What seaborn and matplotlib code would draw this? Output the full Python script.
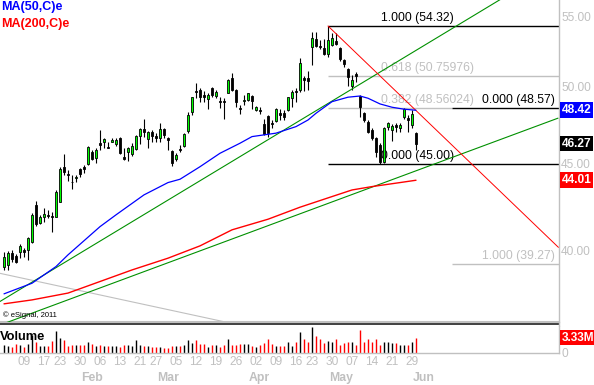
import matplotlib
matplotlib.use('Agg')
import matplotlib.pyplot as plt
import matplotlib.transforms as mtrans
from matplotlib.lines import Line2D
from matplotlib.ticker import NullLocator, FixedLocator
import numpy as np
import pandas as pd
import seaborn as sns

sns.set_theme(style='white')
plt.rcParams['font.family'] = ['Liberation Sans', 'DejaVu Sans']

# ---------------- data (daily bars, Jan 3 - Jun 1 2011) ----------------
opens = [39.09, 39.21, 39.84, 39.70, 39.90, 40.00, 40.00, 40.47, 42.55, 41.54,
         41.88, 41.98, 41.92, 41.85, 42.71, 44.84, 44.37, 43.93, 44.13, 44.69,
         44.82, 44.98, 45.76, 45.36, 46.29, 46.39, 46.08, 46.35, 46.22, 46.65,
         45.42, 45.76, 45.60, 45.91, 46.78, 47.21, 46.56, 47.03, 46.76, 46.61,
         47.21, 46.61, 45.81, 45.31, 45.93, 46.14, 47.08, 48.32, 49.71, 49.78,
         49.44, 49.17, 49.94, 49.38, 49.06, 49.04, 49.59, 50.62, 49.78, 48.60,
         49.06, 49.11, 49.38, 48.44, 48.44, 47.52, 48.04, 47.61, 47.72, 48.22,
         48.26, 48.44, 49.22, 49.74, 49.78, 50.58, 50.58, 52.81, 53.34, 52.86,
         52.69, 52.28, 52.93, 53.24, 52.72, 51.86, 51.21, 50.05, 50.88, 49.38,
         48.22, 47.67, 47.14, 46.61, 46.18, 45.14, 47.31, 47.14, 47.46, 47.25,
         48.00, 47.89, 47.46, 46.97]
highs = [39.93, 39.97, 40.02, 39.79, 40.33, 40.11, 40.75, 42.08, 42.78, 41.98,
         42.36, 42.26, 42.16, 43.43, 44.84, 45.60, 44.63, 44.33, 44.33, 44.73,
         44.94, 46.14, 45.87, 45.98, 47.14, 46.65, 46.35, 46.61, 46.61, 46.71,
         45.98, 46.08, 46.29, 46.82, 47.29, 47.84, 47.08, 47.12, 46.93, 47.57,
         47.29, 46.71, 45.87, 45.66, 46.18, 46.93, 48.32, 49.33, 50.24, 49.89,
         49.71, 49.55, 50.01, 49.78, 49.33, 49.22, 50.51, 50.97, 49.83, 48.77,
         49.44, 49.59, 49.44, 48.70, 48.66, 47.82, 48.11, 47.78, 48.55, 48.48,
         48.44, 49.33, 49.78, 49.89, 51.98, 50.74, 51.11, 53.91, 53.91, 53.29,
         53.34, 54.32, 53.78, 53.78, 52.79, 51.91, 51.28, 50.81, 51.04, 49.44,
         48.32, 47.78, 47.25, 46.71, 46.29, 47.35, 47.67, 47.52, 47.57, 47.57,
         48.57, 48.11, 48.44, 47.03]
lows = [38.94, 38.94, 39.39, 39.30, 39.60, 39.63, 39.48, 40.38, 41.37, 41.45,
        41.59, 41.79, 41.03, 41.85, 42.71, 44.33, 43.97, 43.47, 43.89, 44.23,
        44.43, 44.94, 45.25, 45.04, 45.87, 45.98, 45.98, 46.35, 46.14, 45.60,
        45.25, 45.19, 45.52, 45.87, 46.22, 46.71, 45.98, 46.39, 46.39, 46.39,
        46.61, 45.87, 44.90, 45.19, 45.76, 46.08, 46.93, 48.11, 49.22, 48.99,
        48.99, 48.50, 49.33, 49.26, 48.55, 47.82, 49.55, 49.74, 48.62, 48.18,
        48.77, 49.04, 48.48, 48.39, 48.18, 46.82, 46.71, 47.25, 47.67, 47.78,
        47.78, 48.39, 48.62, 48.99, 49.67, 49.74, 49.78, 51.51, 52.77, 52.62,
        52.21, 52.09, 52.88, 52.93, 51.81, 51.39, 50.05, 49.78, 50.34, 48.00,
        47.67, 46.93, 46.50, 45.45, 45.00, 45.04, 47.14, 46.40, 47.03, 47.03,
        47.82, 47.03, 47.25, 45.87]
closes = [39.63, 39.84, 39.53, 39.36, 40.25, 39.90, 40.70, 41.98, 41.45, 41.87,
          42.04, 41.94, 41.85, 43.33, 44.69, 44.53, 44.33, 43.89, 44.19, 44.39,
          44.68, 46.08, 45.31, 45.87, 46.18, 46.56, 46.02, 46.50, 46.50, 45.67,
          45.31, 45.98, 46.14, 46.76, 47.21, 47.03, 46.99, 46.78, 46.65, 47.21,
          46.82, 46.50, 45.04, 45.56, 45.87, 46.89, 48.11, 49.29, 49.63, 49.33,
          49.33, 49.44, 49.44, 49.67, 48.99, 48.97, 50.46, 49.78, 48.99, 48.48,
          49.11, 49.55, 49.04, 48.66, 48.37, 46.89, 46.93, 47.52, 48.48, 48.13,
          47.95, 49.29, 49.67, 49.61, 51.63, 50.46, 50.41, 53.42, 52.89, 52.81,
          52.28, 53.29, 53.42, 53.00, 51.91, 51.58, 50.65, 50.46, 50.74, 48.66,
          47.78, 47.03, 46.61, 45.76, 45.14, 47.25, 47.57, 47.40, 47.35, 47.46,
          48.48, 47.78, 48.16, 46.27]
volumes_m = [1.70, 1.48, 1.33, 1.92, 1.70, 1.33, 1.92, 3.92, 2.44, 1.48,
             1.48, 1.48, 2.66, 4.81, 3.18, 2.81, 1.48, 1.70, 1.70, 1.70,
             1.70, 2.37, 1.92, 1.48, 1.70, 1.48, 1.48, 1.48, 1.48, 1.33,
             1.70, 1.70, 1.48, 2.81, 1.70, 1.48, 1.48, 1.18, 1.18, 1.18,
             0.96, 0.96, 1.48, 1.48, 1.48, 1.70, 2.81, 2.22, 2.81, 1.92,
             1.92, 1.18, 1.70, 1.70, 1.18, 1.70, 3.03, 1.70, 1.70, 1.92,
             1.92, 1.92, 1.48, 1.33, 1.70, 2.22, 2.96, 1.92, 1.48, 1.48,
             1.48, 2.44, 1.48, 2.44, 4.66, 2.96, 2.44, 5.62, 3.70, 2.96,
             2.22, 2.66, 2.44, 3.03, 1.70, 2.07, 2.29, 2.44, 1.70, 5.03,
             2.44, 3.03, 2.44, 3.03, 1.70, 2.29, 2.29, 2.07, 2.07, 1.70,
             1.70, 1.70, 2.44, 3.33]

ma50_idx = [0, 7, 13, 16, 24, 28, 35, 41, 44, 49, 54, 59, 62, 65, 68, 73, 76,
            78, 82, 86, 89, 91, 94, 97, 100, 103]
ma50_val = [37.69, 38.24, 39.12, 39.75, 41.31, 41.98, 43.14, 43.87, 44.07, 44.83,
            45.66, 46.29, 46.71, 46.82, 46.93, 47.35, 47.78, 48.22, 48.99, 49.29,
            49.37, 49.22, 48.84, 48.62, 48.49, 48.42]
ma200_idx = [0, 7, 16, 24, 32, 41, 49, 57, 66, 74, 82, 87, 92, 99, 103]
ma200_val = [37.18, 37.38, 37.73, 38.33, 38.94, 39.57, 40.24, 41.13, 41.73, 42.42,
             43.04, 43.43, 43.63, 43.87, 44.01]

# trend lines (bar index, price)
green_up_idx, green_up_px = [-1, 138.5], [37.30, 59.06]
green_lo_idx, green_lo_px = [-1, 138.5], [36.12, 47.90]
red_dn_idx, red_dn_px = [81, 138.6], [54.32, 40.16]
gray_dn_idx, gray_dn_px = [-1, 56.5], [38.76, 36.22]

# Fibonacci levels
fib1_levels = [54.32, 50.75976, 48.56024, 45.00]
fib1_labels = ['1.000 (54.32)', '0.618 (50.75976)', '0.382 (48.56024)', '0.000 (45.00)']
fib2_levels = [48.57, 39.27]
fib2_labels = ['0.000 (48.57)', '1.000 (39.27)']

week_tick_idx = [5, 10, 14, 19, 24, 29, 34, 38, 43, 48, 53, 58, 63, 68, 73, 77,
                 82, 87, 92, 97, 102]
week_tick_lab = ['09', '17', '23', '30', '06', '13', '21', '27', '05', '12', '19',
                 '26', '02', '09', '16', '23', '30', '07', '14', '21', '29']
month_idx = [20, 39, 62, 82, 103]
month_lab = ['Feb', 'Mar', 'Apr', 'May', 'Jun']
price_ticks = [40, 45, 50, 55]

# ---------------- figure ----------------
W, H = 594, 385
fig = plt.figure(figsize=(W / 100, H / 100), dpi=100)
fig.patch.set_facecolor('white')


def fx(px):
    return px / W


def fy(py):
    return 1 - py / H


GRAY = '#c0c0c0'
ax = fig.add_axes([0, fy(322), fx(559), 322 / H])
axv = fig.add_axes([0, fy(352.7), fx(559), (352.7 - 326) / H])
for a in (ax, axv):
    a.set_facecolor('white')
    a.set_xlim(-1, 138.75)

df = pd.DataFrame({'idx': np.arange(len(opens)), 'open': opens, 'high': highs,
                   'low': lows, 'close': closes, 'vol': volumes_m})
df['up'] = df['close'] >= df['open']

ax.set_yscale('log')
ax.set_ylim(36.27, 56.28)

# trend lines
ax.plot(gray_dn_idx, gray_dn_px, color=GRAY, lw=0.8, zorder=1)
ax.plot(green_up_idx, green_up_px, color='#009000', lw=0.8, zorder=4)
ax.plot(green_lo_idx, green_lo_px, color='#009000', lw=0.8, zorder=4)
ax.plot(red_dn_idx, red_dn_px, color='#ff0000', lw=0.7, zorder=4)

# fib lines
for lv, lab in zip(fib1_levels, fib1_labels):
    dark = lab.startswith('1.000') or lab.startswith('0.000')
    col = 'black' if dark else GRAY
    xmax = 112 if lab.startswith('0.382') else 138.75
    ax.hlines(lv, 81, xmax, color=col, lw=1.0, zorder=1.5)
    ax.annotate(lab, xy=(94.3, lv), xytext=(0, 5.6), textcoords='offset points',
                ha='left', va='center', color=col, fontsize=8.7)
for lv, lab in zip(fib2_levels, fib2_labels):
    col = 'black' if lab.startswith('0.000') else GRAY
    ax.hlines(lv, 112, 138.75, color=col, lw=1.0, zorder=1.6)
    ax.annotate(lab, xy=(137.8, lv), xytext=(0, 5.4), textcoords='offset points',
                ha='right', va='center', color=col, fontsize=8.7)

# candles
ax.vlines(df['idx'], df['low'], df['high'], color='black', lw=0.8, zorder=2)
ax.bar(df['idx'], (df['close'] - df['open']).abs().clip(lower=0.01),
       bottom=np.minimum(df['open'], df['close']), width=0.55,
       color=np.where(df['up'], '#00ff00', 'black'), edgecolor='black',
       linewidth=0.6, zorder=3)

# moving averages
sns.lineplot(x=ma50_idx, y=ma50_val, ax=ax, color='#0000ff', lw=0.9, zorder=5)
sns.lineplot(x=ma200_idx, y=ma200_val, ax=ax, color='#ff0000', lw=1.0, zorder=5)

ax.yaxis.tick_right()
ax.yaxis.set_major_locator(FixedLocator(price_ticks))
ax.yaxis.set_minor_locator(NullLocator())
ax.set_yticklabels([f'{t:.2f}' for t in price_ticks])
ax.tick_params(axis='y', length=0, pad=1.5, labelcolor=GRAY, labelsize=8.6)
ax.tick_params(axis='x', bottom=False, labelbottom=False)
ax.set_xlabel('')
ax.set_ylabel('')
for s in ('top', 'left'):
    ax.spines[s].set_visible(False)
ax.spines['right'].set_color(GRAY)
ax.spines['right'].set_linewidth(1.0)
ax.spines['bottom'].set_color(GRAY)
ax.spines['bottom'].set_linewidth(1.5)

# value boxes on the right
tr = mtrans.blended_transform_factory(ax.transAxes, ax.transData)
for val, txt, col in [(ma50_val[-1], '48.42', '#0000ff'),
                      (closes[-1], '46.27', 'black'),
                      (ma200_val[-1], '44.01', '#ff0000')]:
    ax.text(1.0045, val, txt, transform=tr, ha='left', va='center', color='white',
            fontweight='bold', fontsize=8.6, clip_on=False,
            bbox=dict(boxstyle='square,pad=0.15', fc=col, ec='none'))

# volume
vcol = np.where(df['up'], 'black', '#ff0000')
axv.vlines(df['idx'], 0, df['vol'], colors=vcol, lw=1.0)
axv.set_ylim(0, 5.93)
axv.yaxis.tick_right()
axv.set_yticks([0])
axv.set_yticklabels(['0'])
axv.tick_params(axis='y', length=0, pad=2, labelcolor=GRAY, labelsize=8.6)
axv.set_xticks(week_tick_idx)
axv.set_xticklabels(week_tick_lab)
axv.tick_params(axis='x', length=0, pad=2.5, labelcolor=GRAY, labelsize=8.6)
for s in ('top', 'left'):
    axv.spines[s].set_visible(False)
for s in ('right', 'bottom'):
    axv.spines[s].set_color(GRAY)
    axv.spines[s].set_linewidth(1.0)
trv = mtrans.blended_transform_factory(axv.transAxes, axv.transData)
axv.text(1.0045, volumes_m[-1], '3.33M', transform=trv, ha='left', va='center',
         color='white', fontweight='bold', fontsize=8.6, clip_on=False,
         bbox=dict(boxstyle='square,pad=0.15', fc='#ff0000', ec='none'))

trm = mtrans.blended_transform_factory(axv.transData, fig.transFigure)
for mi, ml in zip(month_idx, month_lab):
    axv.text(mi - 0.75, fy(378), ml, transform=trm, ha='left', va='center',
             color=GRAY, fontsize=8.8, fontweight='bold', clip_on=False)

# separator between panels
fig.add_artist(Line2D([0, fx(559)], [fy(323.8)] * 2, color='#404040', lw=1.4,
                      transform=fig.transFigure))
fig.add_artist(Line2D([fx(559)] * 2, [fy(322), fy(326)], color=GRAY, lw=1.0,
                      transform=fig.transFigure))

# texts
fig.text(fx(1), fy(7), 'MA(50,C)e', color='#0000ff', fontweight='bold',
         fontsize=9, ha='left', va='center')
fig.text(fx(1), fy(24), 'MA(200,C)e', color='#ff0000', fontweight='bold',
         fontsize=9, ha='left', va='center')
fig.text(fx(3), fy(315.5), '\u00a9 eSignal, 2011', color='black', fontsize=5.5,
         ha='left', va='center')
fig.text(fx(0), fy(336.5), 'Volume', color='black', fontweight='bold',
         fontsize=9.3, ha='left', va='center')

fig.savefig('out.png', dpi=100, facecolor='white')
